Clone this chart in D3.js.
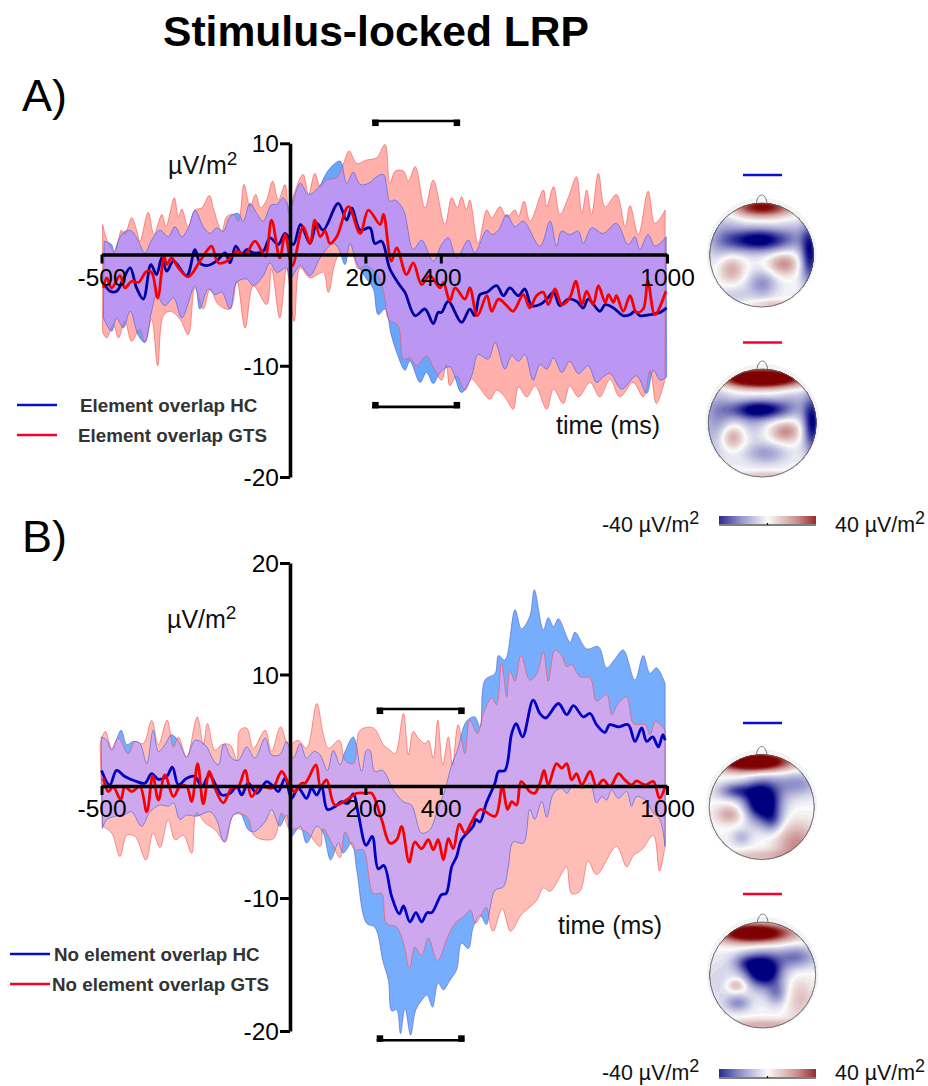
<!DOCTYPE html>
<meta charset="utf-8" />
<title>Stimulus-locked LRP</title>
<style>
  body { margin: 0; background: #fff; }
  text { font-family: "Liberation Sans", Arial, sans-serif; fill: #000; }
  .tick text { font-size: 24.5px; }
  .legend { font-size: 18.8px; font-weight: bold; fill: #333; }
  .unit { font-size: 25px; fill: #111; }
  .barlabel { font-size: 21.4px; fill: #111; }
</style>

<body>
  <script src="https://d3js.org/d3.v7.min.js"></script>
  <script>
    // values, [time in ms, µV/m²]
    var aRedUpper = [[-497,2.7],[-482,1],[-464,.3],[-447,2.2],[-438,1.8],[-420,3.3],[-407,2.2],[-398,1.2],[-376,3.8],[-361,1.8],[-340,3.6],[-329,2.5],[-307,5.1],[-296,3.4],[-287,4.1],[-270,2.5],[-252,4],[-234,4.2],[-214,5.3],[-202,4],[-181,2.1],[-168,3.4],[-150,3.6],[-137,3],[-122,6.3],[-106,4.3],[-91,5.4],[-78,4.2],[-62,4.9],[-46,6.6],[-31,4.9],[-13,6.3],[-3,3.7],[11,5.5],[35,7.2],[49,5.4],[66,7.3],[80,6.1],[97,6.7],[124,6.9],[141,8.1],[157,9.3],[177,8.2],[203,8.5],[230,8.7],[252,9.9],[265,6.4],[279,7.5],[301,7.5],[314,6.6],[332,7.9],[358,4.2],[380,6.7],[411,2.7],[429,5.1],[444,4.2],[455,5.2],[468,4],[477,4.9],[499,1],[522,4],[535,3.3],[557,4.3],[575,3.4],[597,4],[606,3.4],[621,4.8],[637,3],[672,5.8],[681,4.3],[699,6.1],[716,3.6],[738,5.1],[760,7],[774,3.7],[787,5.8],[800,3.6],[818,7.3],[836,4.3],[866,5.4],[889,2.5],[902,4.4],[924,1.8],[950,5.7],[968,2.8],[995,4]];
    var aRedLower = [[-497,-7],[-486,-7.5],[-469,-6.3],[-455,-7.5],[-438,-6],[-420,-7.8],[-398,-6.7],[-385,-7.9],[-367,-5.8],[-351,-10],[-336,-5.5],[-318,-5.1],[-292,-5.8],[-270,-7.2],[-252,-3],[-230,-4.9],[-212,-3.1],[-190,-4.5],[-159,-4.9],[-141,-2.4],[-119,-6.6],[-97,-2.8],[-62,-4.5],[-49,-1.3],[-27,-5.7],[-9,-1.3],[11,-6],[27,-1.2],[53,-2.1],[88,-1.6],[102,-3.4],[128,-.15],[164,0],[181,-1.3],[199,-1],[234,-1.9],[252,-4],[261,-5.8],[287,-6.4],[301,-9.4],[318,-9.3],[336,-10],[362,-9.1],[380,-10.1],[402,-11.3],[415,-9.9],[424,-11.8],[442,-10.9],[464,-12.2],[482,-11.2],[499,-11.8],[530,-13],[548,-12.2],[570,-12.8],[592,-13.9],[606,-11.9],[628,-12.8],[650,-11.8],[681,-13.9],[699,-12.1],[725,-13.4],[742,-11.8],[765,-12.8],[796,-11.5],[822,-12.8],[849,-11.2],[875,-12.8],[910,-11.5],[937,-12.8],[955,-10.4],[972,-13.4],[995,-11.2]];
    var aBlueUpper = [[-493,1.2],[-473,.9],[-467,.15],[-455,1.3],[-438,2.1],[-420,2.1],[-402,1.2],[-385,.15],[-367,1.3],[-345,2.2],[-323,1.6],[-305,2.5],[-287,1.6],[-270,2.4],[-252,4],[-230,2.5],[-212,1.9],[-195,2.4],[-177,2.1],[-159,3.4],[-137,3.7],[-124,3],[-106,4.6],[-88,3.7],[-71,3],[-49,4.5],[-35,4.5],[-18,5.1],[0,4.2],[27,6.4],[49,5.4],[75,6],[102,7.6],[133,8.4],[150,6.4],[168,7.4],[186,6.3],[208,6.4],[230,7],[248,7.2],[265,4.8],[279,4.9],[301,4],[327,.45],[349,1.3],[380,-.6],[402,.9],[420,1.5],[442,-.3],[473,1.3],[490,.15],[522,2.2],[535,1.8],[553,2.2],[575,3.6],[597,2.5],[619,3],[663,.75],[690,3],[707,.75],[720,2.1],[742,1.8],[765,2.1],[778,1],[800,2.4],[831,1.9],[866,2.8],[897,.9],[915,1.6],[928,.45],[950,1.8],[968,.75],[998,1.6]];
    var aBlueLower = [[-495,-5.7],[-473,-6.9],[-460,-5.7],[-442,-6.6],[-424,-5.1],[-402,-7.3],[-385,-7.9],[-367,-5.1],[-354,-3.7],[-332,-4.6],[-309,-3.9],[-287,-5.7],[-252,-2.8],[-239,-4.9],[-217,-3.1],[-199,-3.6],[-181,-3.4],[-159,-4.9],[-141,-2.5],[-115,-2.2],[-97,-2.8],[-71,-1.9],[-53,-.75],[-35,-1.6],[-9,-1.2],[0,-2.2],[27,-1],[53,-1.9],[80,-.3],[115,1],[128,.6],[146,-.9],[159,1],[177,-.75],[203,-2.2],[221,-3.1],[234,-5.4],[252,-4.9],[269,-7.3],[283,-8.8],[305,-10.4],[318,-9.6],[345,-11.5],[362,-10.6],[380,-11.6],[398,-10.6],[424,-10.1],[455,-12.4],[482,-10.9],[499,-9],[526,-9.4],[544,-7.9],[570,-10.3],[588,-9.1],[606,-9.6],[623,-9],[645,-11.3],[663,-9.9],[681,-10.3],[699,-9.3],[721,-10.6],[742,-9.6],[765,-10.7],[791,-10],[813,-11.5],[831,-11],[849,-10.7],[880,-12.1],[919,-10.9],[946,-12.5],[964,-10.4],[982,-11.3],[999,-11]];
    var aBlueMean = [[-495,-2.5],[-477,-3.3],[-460,-3.3],[-442,-2.2],[-424,-1.2],[-407,-3],[-389,-4],[-369,-.9],[-354,-1.8],[-340,-.3],[-327,-1.5],[-309,-.6],[-274,-1.9],[-252,.45],[-239,-.75],[-221,-1],[-195,-.6],[-172,.15],[-159,-.75],[-144,.75],[-128,0],[-115,.45],[-97,.15],[-71,.3],[-53,1.5],[-31,.9],[-13,1.9],[9,.9],[28,2.7],[53,1],[71,2.8],[88,2.2],[128,4.6],[150,3.1],[164,4.2],[186,2.2],[212,2.4],[225,1],[243,1.2],[265,-1.3],[292,-2.8],[305,-3.4],[332,-5.5],[358,-4.9],[380,-6.2],[393,-5.2],[402,-5.2],[420,-4.2],[455,-6.1],[477,-4.9],[490,-5.5],[504,-3.6],[522,-3.4],[548,-2.8],[566,-3.7],[583,-3],[606,-3.7],[623,-3.1],[641,-4.6],[663,-4.5],[681,-4],[699,-3.4],[716,-4.6],[738,-4],[760,-4.2],[778,-4.8],[791,-4],[822,-5.1],[836,-4.5],[858,-4.8],[884,-5.5],[902,-5.4],[915,-5.1],[928,-5.5],[955,-5.4],[982,-5.2],[999,-4.8]];
    var aRedMean = [[-495,-3],[-486,-2.1],[-473,-3],[-451,-1.9],[-438,-3],[-420,-2.4],[-402,-2.5],[-380,-1.5],[-367,-1.6],[-351,-3.9],[-334,-.15],[-327,-.9],[-314,-.3],[-296,-1.2],[-270,-2],[-239,-.6],[-221,.3],[-208,.75],[-190,-.75],[-168,-.6],[-141,.3],[-119,0],[-93,1.2],[-66,-.15],[-49,3.1],[-27,-.3],[-13,1.8],[6,-1],[35,2.5],[53,1],[66,3.1],[80,1.6],[93,2.1],[106,1],[124,1.6],[155,4.3],[186,1.9],[208,4],[239,2.7],[248,3.6],[269,-.6],[283,.6],[309,-1.8],[327,-.75],[349,-2.7],[371,-1.9],[398,-3],[407,-2.5],[424,-4.2],[438,-3],[464,-4],[477,-3],[497,-5.5],[522,-3.7],[535,-5.1],[553,-4],[575,-4.6],[592,-5.1],[619,-3.6],[636,-4.8],[654,-3.7],[672,-3.4],[685,-4.5],[703,-3.1],[721,-4.5],[742,-3.9],[758,-2.4],[774,-4.5],[787,-3.3],[804,-4.5],[818,-2.8],[836,-4.3],[845,-3.6],[858,-4.3],[866,-3.7],[884,-5.1],[902,-3.7],[919,-5.2],[937,-4.9],[949,-2.4],[968,-5.4],[997,-3.3]];

    var bRedUpper = [[-504,3.7],[-490,4.9],[-473,3.4],[-456,4.3],[-429,2.9],[-411,4],[-389,3.8],[-367,5.9],[-349,3.7],[-326,5.9],[-309,3.5],[-296,4.4],[-274,2.6],[-246,6.2],[-230,3.7],[-219,5.6],[-199,3.2],[-181,3.7],[-159,3.7],[-141,2.3],[-133,5],[-115,5.2],[-97,3.4],[-66,5],[-49,3.1],[-25,5.3],[-4,3.7],[22,4.1],[44,3.4],[71,7.4],[88,4.7],[102,3.4],[131,4.1],[146,2.3],[168,2],[186,5],[221,5.2],[248,3.7],[265,3.2],[279,2.9],[301,6.5],[314,2.8],[327,4.9],[340,4.3],[358,3.8],[367,4.1],[380,2.5],[392,5.9],[405,1.9],[420,4.4],[431,1.9],[446,5.5],[464,2.9],[477,5.9],[497,4.7],[513,6.5],[535,7.9],[548,7.3],[561,11],[575,8],[583,10.3],[597,9.4],[613,11.7],[636,9.5],[654,10],[672,12],[685,9.4],[703,12.2],[721,11.7],[734,10.7],[747,10.9],[769,9.8],[796,9.7],[813,7.6],[840,8.2],[853,6.4],[871,7.4],[893,8],[911,5.6],[942,5.5],[955,4.6],[970,5.8],[995,5]];
    var bRedLower = [[-497,-3.6],[-473,-4.2],[-451,-6.3],[-433,-4.4],[-411,-4.5],[-382,-6.6],[-363,-4.2],[-345,-5.5],[-323,-3],[-305,-4.8],[-283,-4.4],[-261,-6],[-248,-2.4],[-225,-3.3],[-199,-3.9],[-172,-5],[-150,-2.6],[-115,-2.7],[-93,-4.5],[-44,-4.7],[-22,-2.4],[0,-3.9],[18,-3.8],[44,-4.1],[80,-5.4],[88,-3.8],[111,-5.1],[133,-6.4],[146,-4.1],[172,-5.7],[194,-5.7],[221,-9.6],[243,-9.6],[256,-11.9],[283,-12.2],[301,-13.4],[317,-15.3],[331,-13.7],[349,-14.3],[367,-13],[391,-14.7],[420,-12.8],[438,-11.9],[460,-11.4],[479,-10.9],[492,-11.9],[521,-10.7],[530,-11.9],[539,-12.5],[563,-10.8],[585,-12.5],[610,-11.4],[623,-11],[654,-10.2],[672,-9.1],[690,-9.4],[721,-7.8],[734,-7.2],[747,-9.6],[769,-9.4],[791,-6.7],[813,-7.9],[866,-5.4],[893,-7.2],[911,-6.2],[933,-5.7],[964,-4.4],[980,-7.6],[995,-5.3]];
    var bBlueUpper = [[-501,4.4],[-486,4.1],[-473,3.2],[-448,5],[-433,3.7],[-416,4],[-398,3.8],[-380,2],[-363,5],[-349,3.1],[-332,3.7],[-314,4.6],[-296,4],[-274,2.6],[-252,4.1],[-225,3.7],[-203,2.3],[-190,1.9],[-175,3.8],[-155,2.5],[-137,2.3],[-115,3.5],[-93,2.5],[-66,4.3],[-49,2.8],[-27,2.8],[-9,4],[9,2.5],[27,3.8],[44,2.5],[64,3.1],[80,2.8],[99,1.4],[115,3.2],[133,1.9],[146,3.1],[168,4.4],[190,1.3],[203,3.2],[212,3.2],[225,1.3],[246,1.4],[274,-.35],[301,-1.4],[322,-1.7],[349,-4.2],[371,-3.9],[389,-2.4],[411,-.35],[429,1.9],[444,3.2],[468,5.8],[490,6.2],[504,5.3],[517,9.5],[544,10.1],[553,11.7],[570,11.3],[597,15.8],[614,14.1],[636,15.2],[648,17.6],[672,14],[685,15.1],[699,14.3],[712,15],[743,12.9],[756,13.8],[787,12.3],[818,12.5],[840,10.6],[862,11.4],[884,12.2],[915,9.5],[937,11.7],[955,10.1],[972,10.6],[995,9.2]];
    var bBlueLower = [[-498,-3.8],[-486,-3],[-464,-2.7],[-442,-2.6],[-420,-2.3],[-394,-3.6],[-371,-2.3],[-345,-1.7],[-323,-1.8],[-309,-1.5],[-292,-3],[-274,-2.6],[-248,-2.7],[-212,-2.3],[-195,-3],[-175,-5],[-150,-2.6],[-133,-2.4],[-111,-3.9],[-97,-4.1],[-66,-3.2],[-49,-2.1],[-27,-3.6],[-9,-2.6],[3,-4.5],[27,-3.6],[44,-5.1],[71,-3.6],[88,-4.2],[108,-6.6],[128,-5.1],[141,-6],[164,-5.1],[177,-7.5],[203,-11.9],[225,-12.2],[247,-14.8],[261,-16.2],[270,-18.5],[283,-18.4],[293,-20.2],[305,-18.3],[320,-20.3],[334,-18.4],[358,-17.4],[364,-17.3],[378,-18.2],[393,-16.4],[407,-16.9],[424,-16.2],[442,-15.4],[455,-13.4],[473,-13.8],[486,-12.2],[504,-11.3],[521,-12],[530,-10.9],[544,-9.3],[566,-9],[579,-7.2],[592,-5],[619,-5.1],[636,-2.1],[649,-3],[668,-1.4],[681,-2.8],[699,-.65],[721,-.2],[734,-.65],[752,.1],[778,-.2],[796,.25],[813,-1.5],[827,-.95],[840,-1.25],[853,-.35],[871,-1.1],[893,-.5],[906,-1.8],[919,-.95],[942,-1.25],[964,-2.4],[981,-3],[995,-5.4]];
    var bBlueMean = [[-500,1.4],[-478,.1],[-460,1.4],[-438,.85],[-411,.45],[-385,.25],[-367,1.1],[-349,.6],[-327,.85],[-312,1.7],[-296,.1],[-274,.7],[-252,.85],[-234,-.05],[-214,1],[-195,-.05],[-181,-.8],[-159,-.65],[-141,-.05],[-128,-.8],[-111,.25],[-88,-.65],[-62,.4],[-44,-.05],[-31,-.5],[-13,.7],[4,-1.1],[22,-.2],[44,-1.1],[57,-.2],[71,-.8],[84,-.05],[99,-2.1],[119,-1.85],[137,-1.4],[150,-1.55],[168,-.7],[181,-2.45],[202,-5.3],[218,-4.5],[234,-7.4],[249,-7.1],[270,-9.9],[290,-11.2],[301,-10.6],[318,-11.8],[334,-11.1],[349,-11.8],[364,-11.1],[376,-11.1],[402,-9.7],[414,-9.6],[429,-7.2],[442,-6.3],[455,-4.8],[486,-3.6],[493,-3],[504,-3.2],[521,-1.5],[544,.3],[553,1.3],[570,1.4],[588,4.7],[600,5.6],[617,4.4],[645,7.7],[663,6.5],[678,6.1],[712,7.4],[734,6.4],[752,7.2],[778,6.2],[796,6.5],[813,5.5],[835,4.8],[848,5.5],[871,5.3],[897,5.5],[915,4],[933,5.2],[946,4],[962,4.4],[977,3.5],[989,4.6],[995,4.1]];
    var bRedMean = [[-495,.7],[-482,-.5],[-469,-.05],[-449,-1.25],[-438,-.05],[-420,-.5],[-398,-.05],[-380,-2.3],[-364,.9],[-349,-1.25],[-332,1],[-309,-.95],[-292,-.05],[-274,-.05],[-261,-1.4],[-245,2],[-230,-1.6],[-214,1.3],[-199,-.2],[-177,-1.5],[-155,-.2],[-137,-.05],[-119,1.4],[-102,-.95],[-80,-.05],[-49,-.2],[-40,.1],[-22,1.3],[0,-.05],[13,-.5],[31,.25],[40,.25],[49,.7],[69,1.9],[81,-.05],[97,.55],[119,-1.7],[150,-1.25],[177,-.65],[203,-.65],[217,-.65],[243,-3],[265,-5.1],[283,-4.8],[296,-3.6],[316,-6.8],[331,-5],[349,-5.6],[367,-4.8],[380,-5.7],[393,-4.8],[407,-6.6],[420,-4.7],[433,-5.6],[449,-3.4],[464,-4.2],[482,-3.2],[504,-2.1],[544,-2.7],[563,-.05],[577,-2.1],[588,-1.4],[601,-1.7],[613,.4],[636,-.5],[649,-.65],[663,.25],[674,1.4],[685,.1],[707,2],[721,1.6],[734,2],[747,.55],[760,1.1],[774,.1],[796,1.3],[813,-.05],[831,.55],[849,-.05],[871,1.1],[888,.55],[906,.1],[919,.45],[942,.1],[964,.4],[980,-1.1],[995,-.05]];

    var xTicks = [-500, 200, 400, 1000];
    var aYTicks = [10, -10, -20];
    var bYTicks = [20, 10, -10, -20];
    var aWindow = [218, 450];
    var bWindow = [230, 462];

    // scalp maps, blobs as [u, v, spreadU, spreadV, amplitude] on the unit head
    var mapAHc = [[0,-.93,.42,.13,1.05],[-.06,-.3,.44,.16,-1.1],[.92,-.03,.13,.42,-.95],[-.6,.25,.18,.2,.5],[.41,.16,.2,.15,.55],[0,.54,.2,.18,-.45],[.2,.93,.35,.06,.3],[-.75,-.3,.25,.4,-.3],[-.55,.75,.25,.14,-.18],[.6,-.45,.2,.2,-.15]];
    var mapAGts = [[-.02,-.84,.55,.12,1.7],[-.05,-.26,.4,.13,-1.1],[.92,0,.13,.38,-1],[-.57,.25,.16,.16,.55],[.42,.15,.2,.14,.55],[.05,.55,.28,.14,-.4],[.08,.95,.4,.05,.3],[-.85,-.05,.22,.45,-.4],[-.2,.05,.2,.2,-.2],[.55,-.45,.2,.15,-.2]];
    var mapBHc = [[-.16,-.87,.5,.13,1.6],[0,-.13,.24,.27,-1.35],[-.5,-.32,.24,.11,-.65],[.65,-.45,.3,.17,-.45],[-.62,.13,.2,.13,.45],[-.4,.57,.13,.11,-.28],[.65,.7,.3,.3,.55],[-.1,.92,.5,.08,.3],[.2,.25,.14,.17,-.45]];
    var mapBGts = [[-.17,-.8,.5,.13,1.45],[0,-.1,.24,.22,-1.35],[-.35,-.25,.18,.12,-.45],[.62,-.35,.27,.15,-.55],[-.5,.18,.13,.09,.42],[-.48,.52,.17,.11,-.45],[.26,.34,.14,.16,-.45],[.7,.45,.2,.3,.3],[0,.93,.6,.08,.4],[-.85,.1,.2,.3,-.15]];

    var width = 928, height = 1086;

    var svg = d3.select("body").append("svg")
      .attr("width", width).attr("height", height);

    var x = d3.scaleLinear().domain([-500, 1000]).range([101.5, 667]);
    var aY = d3.scaleLinear().domain([10, -20]).range([143.3, 477]);
    // the printed axis of panel B is stretched below -10
    var bY = d3.scaleLinear().domain([20, 0, -10, -20]).range([563, 786, 898, 1031]);

    var topoColor = d3.scaleLinear()
      .domain([-1, -.5, 0, .5, 1])
      .range(["#00007f", "#8c8cc6", "#fafafa", "#cc9494", "#7f0000"])
      .clamp(true);

    function ring(line, upper, lower) {
      var back = line(lower.slice().reverse());
      return line(upper) + "L" + back.slice(1) + "Z";
    }

    function panel(id, y, o) {
      var g = svg.append("g");
      var line = d3.line().curve(d3.curveCatmullRom.alpha(0.5))
        .x(function (d) { return x(d[0]); })
        .y(function (d) { return y(d[1]); });
      var redRing = ring(line, o.redUpper, o.redLower);
      var blueRing = ring(line, o.blueUpper, o.blueLower);

      g.append("clipPath").attr("id", "clip-" + id).append("path").attr("d", redRing);
      g.append("path").attr("d", redRing).attr("fill", o.redFill);
      g.append("path").attr("d", blueRing).attr("fill", o.blueFill);
      g.append("path").attr("d", blueRing).attr("fill", o.bothFill)
        .attr("clip-path", "url(#clip-" + id + ")");
      g.append("path").attr("d", redRing).attr("fill", "none")
        .attr("stroke", "#f4504f").attr("stroke-width", 0.6);
      g.append("path").attr("d", blueRing).attr("fill", "none")
        .attr("stroke", "#5060d0").attr("stroke-width", 0.6);

      g.append("path").attr("d", line(o.blueMean)).attr("fill", "none")
        .attr("stroke", o.blueLine).attr("stroke-width", 2.8);
      g.append("path").attr("d", line(o.redMean)).attr("fill", "none")
        .attr("stroke", "#f80000").attr("stroke-width", 2.8);

      // axes on top of the bands
      var yAxis = g.append("g").attr("transform", "translate(290,0)")
        .call(d3.axisLeft(y).tickValues(o.yTicks).tickSize(10).tickSizeOuter(0)
          .tickFormat(String));
      var xAxis = g.append("g").attr("transform", "translate(0," + y(0) + ")")
        .call(d3.axisBottom(x).tickValues(xTicks).tickSize(9).tickSizeOuter(0)
          .tickFormat(String));

      [yAxis, xAxis].forEach(function (a) {
        a.selectAll("path,line").attr("stroke", "#000");
        a.select(".domain").attr("stroke-width", 3.6);
        a.selectAll(".tick line").attr("stroke-width", 3);
        a.selectAll("text").attr("font-family", null).attr("fill", "#111");
      });
      yAxis.selectAll(".tick text").attr("x", -11).attr("dy", "0.35em");
      xAxis.selectAll(".tick text").attr("y", 14).attr("dy", "0.71em");

      // time window brackets
      o.brackets.forEach(function (v) {
        var s = v > 0 ? 1 : -1;
        g.append("path")
          .attr("d", "M" + x(o.window[0]) + "," + y(v) + "H" + x(o.window[1]))
          .attr("stroke", "#000").attr("stroke-width", 2.6);
        o.window.forEach(function (t, i) {
          g.append("rect")
            .attr("x", x(t) - (i ? 6 : 0)).attr("y", y(v) - (s > 0 ? 1.5 : 5))
            .attr("width", 6.5).attr("height", 6.5).attr("fill", "#000");
        });
      });
    }

    panel("a", aY, {
      redUpper: aRedUpper, redLower: aRedLower, blueUpper: aBlueUpper, blueLower: aBlueLower,
      blueMean: aBlueMean, redMean: aRedMean, yTicks: aYTicks, window: aWindow, brackets: [12, -13.7],
      redFill: "#ffb0ab", blueFill: "#68a6fa", bothFill: "#bb97f3", blueLine: "#00009c"
    });
    panel("b", bY, {
      redUpper: bRedUpper, redLower: bRedLower, blueUpper: bBlueUpper, blueLower: bBlueLower,
      blueMean: bBlueMean, redMean: bRedMean, yTicks: bYTicks, window: bWindow, brackets: [6.9, -20.7],
      redFill: "#ffbdb8", blueFill: "#76adfc", bothFill: "#cea8ee", blueLine: "#0000c4"
    });

    // titles and labels
    svg.append("text").attr("x", 163).attr("y", 46).attr("font-size", 42.6)
      .attr("font-weight", "bold").text("Stimulus-locked LRP");
    svg.append("text").attr("x", 22).attr("y", 111).attr("font-size", 45).text("A)");
    svg.append("text").attr("x", 22).attr("y", 552).attr("font-size", 45).text("B)");

    function unit(xp, yp) {
      var t = svg.append("text").attr("class", "unit").attr("x", xp).attr("y", yp).text("µV/m");
      t.append("tspan").attr("dy", -9).attr("font-size", 19).text("2");
    }
    unit(168, 174);
    unit(167, 628);

    svg.append("text").attr("class", "unit").attr("x", 556).attr("y", 434).text("time (ms)");
    svg.append("text").attr("class", "unit").attr("x", 558).attr("y", 934).text("time (ms)");

    function legend(x0, x1, ly, tx, label, color) {
      svg.append("line").attr("x1", x0).attr("x2", x1).attr("y1", ly).attr("y2", ly)
        .attr("stroke", color).attr("stroke-width", 2.4);
      svg.append("text").attr("class", "legend").attr("x", tx).attr("y", ly + 6.5).text(label);
    }
    legend(17, 57, 405, 80, "Element overlap HC", "#0a10d0");
    legend(17, 57, 435, 78, "Element overlap GTS", "#f5002d");
    legend(10, 50, 954, 54, "No element overlap HC", "#0a10c0");
    legend(10, 50, 984, 52, "No element overlap GTS", "#f5002d");

    // scalp maps
    var gridSize = 90;
    var levels = d3.range(-1, 1.001, 0.04);

    function topo(id, cx, cy, r, blobs, markColor, markY) {
      svg.append("line").attr("x1", 743).attr("x2", 782).attr("y1", markY).attr("y2", markY)
        .attr("stroke", markColor).attr("stroke-width", 2.4);
      svg.append("circle").attr("cx", cx).attr("cy", cy - 2).attr("r", r + 3).attr("fill", "#f3f3f3");
      svg.append("path")
        .attr("d", "M" + (cx - 5.5) + "," + (cy - r + 1) + "C" + (cx - 4) + "," + (cy - r - 11) + " " + (cx + 4) + "," + (cy - r - 11) + " " + (cx + 5.5) + "," + (cy - r + 1))
        .attr("fill", "none").attr("stroke", "#555").attr("stroke-width", 0.8);

      var values = [];
      for (var j = 0; j < gridSize; j++) {
        for (var i = 0; i < gridSize; i++) {
          var u = (i / (gridSize - 1)) * 2 - 1, v = (j / (gridSize - 1)) * 2 - 1, s = 0;
          blobs.forEach(function (b) {
            var du = (u - b[0]) / b[2], dv = (v - b[1]) / b[3];
            s += b[4] * Math.exp(-0.5 * (du * du + dv * dv));
          });
          values.push(Math.max(-1, Math.min(1, s)));
        }
      }
      var path = d3.geoPath(d3.geoIdentity()
        .scale((2 * r) / (gridSize - 1)).translate([cx - r, cy - r]));
      var contours = d3.contours().size([gridSize, gridSize]).thresholds(levels)(values);

      svg.append("clipPath").attr("id", id).append("circle")
        .attr("cx", cx).attr("cy", cy).attr("r", r);
      svg.append("g").attr("clip-path", "url(#" + id + ")")
        .selectAll("path").data(contours).join("path")
        .attr("d", path)
        .attr("fill", function (d) { return topoColor(d.value); });
      svg.append("circle").attr("cx", cx).attr("cy", cy).attr("r", r)
        .attr("fill", "none").attr("stroke", "#555").attr("stroke-width", 0.8);
    }
    topo("head1", 761.7, 255, 52, mapAHc, "#0a10d0", 175);
    topo("head2", 762.3, 423, 54, mapAGts, "#f5002d", 342.5);
    topo("head3", 761.7, 807, 52.5, mapBHc, "#0a10d0", 723);
    topo("head4", 762.7, 975, 53, mapBGts, "#f5002d", 894);

    // colour bars
    var defs = svg.append("defs");
    var gradient = defs.append("linearGradient").attr("id", "topo-bar");
    d3.range(-1, 1.01, 0.1).forEach(function (d) {
      gradient.append("stop").attr("offset", (d + 1) / 2)
        .attr("stop-color", topoColor(d * 0.85));
    });

    function colorBar(top, labelY) {
      svg.append("rect").attr("x", 719).attr("y", top).attr("width", 97).attr("height", 8)
        .attr("fill", "url(#topo-bar)");
      svg.append("path").attr("d", "M719," + (top + 9) + "H816M767.5," + (top + 9) + "v-2")
        .attr("stroke", "#000").attr("stroke-width", 1.2);
      var l = svg.append("text").attr("class", "barlabel").attr("x", 602).attr("y", labelY).text("-40 µV/m");
      l.append("tspan").attr("dy", -8).attr("font-size", 18).text("2");
      var r = svg.append("text").attr("class", "barlabel").attr("x", 835).attr("y", labelY).text("40 µV/m");
      r.append("tspan").attr("dy", -8).attr("font-size", 18).text("2");
    }
    colorBar(516, 532);
    colorBar(1069, 1080);
  </script>
</body>
